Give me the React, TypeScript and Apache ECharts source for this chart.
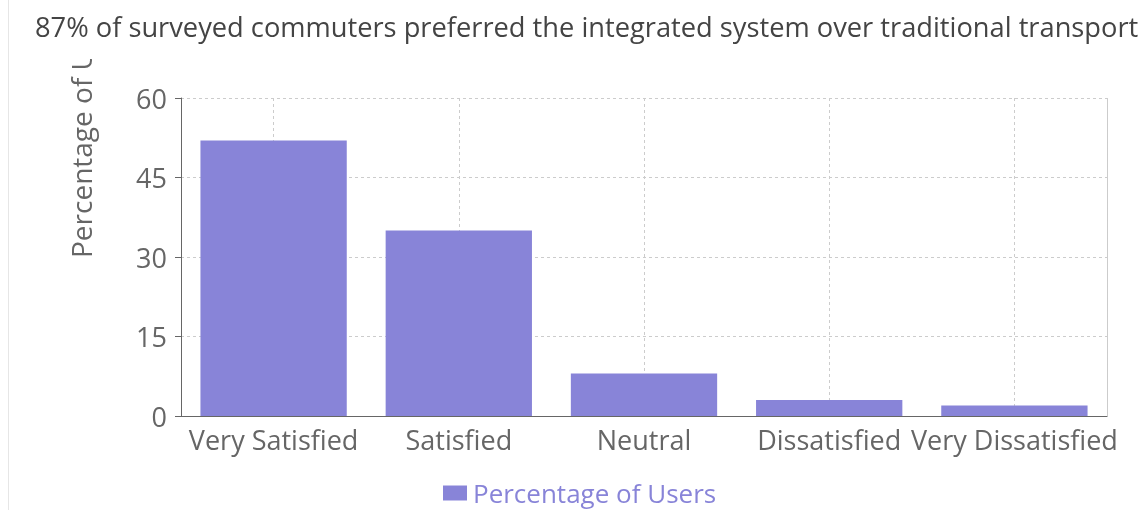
import React, { useEffect, useRef } from "react";
import * as echarts from "echarts";

// Survey results: share of users per satisfaction level
const categories = [
  "Very Satisfied",
  "Satisfied",
  "Neutral",
  "Dissatisfied",
  "Very Dissatisfied",
];
const percentages = [52, 35, 8, 3, 2];
const yTicks = { min: 0, max: 60, interval: 15 };

const seriesName = "Percentage of Users";
const titleText =
  "87% of surveyed commuters preferred the integrated system over traditional transport";

const FONT = "'Open Sans', 'Noto Sans', sans-serif";
const BAR_COLOR = "#8884d8";
const AXIS_COLOR = "#666";
const GRID_COLOR = "#ccc";

// Half-band helper axis: its odd boundaries fall on the category centres,
// which is where the vertical dashed grid lines go.
const halfBands = categories.flatMap((c) => [c + ":a", c + ":b"]);

export default function App() {
  const ref = useRef<HTMLDivElement>(null);

  useEffect(() => {
    if (!ref.current) return;
    const chart = echarts.init(ref.current, undefined, { renderer: "svg" });

    chart.setOption({
      animation: false,
      textStyle: { fontFamily: FONT },
      title: {
        text: titleText,
        left: 35,
        top: 13,
        padding: 0,
        z: 10,
        textStyle: {
          fontFamily: FONT,
          fontSize: 27.25,
          fontWeight: "normal",
          color: "#444",
        },
      },
      legend: {
        data: [seriesName],
        left: 438,
        top: 475,
        itemWidth: 24,
        itemHeight: 15,
        icon: "rect",
        textStyle: {
          fontFamily: FONT,
          fontSize: 26,
          color: BAR_COLOR,
          padding: [0, 0, 0, 1],
        },
      },
      grid: { left: 181, right: 31, top: 98, bottom: 94 },
      xAxis: [
        {
          type: "category",
          data: categories,
          axisLine: { lineStyle: { color: AXIS_COLOR } },
          axisTick: {
            alignWithLabel: true,
            length: 6,
            lineStyle: { color: AXIS_COLOR },
          },
          axisLabel: {
            interval: 0,
            fontFamily: FONT,
            fontSize: 27,
            color: AXIS_COLOR,
            margin: 10,
          },
          splitLine: { show: false },
        },
        {
          type: "category",
          data: halfBands,
          position: "bottom",
          axisLine: { show: false },
          axisTick: { show: false },
          axisLabel: { show: false },
          splitLine: {
            show: true,
            interval: (index: number) => index % 2 === 1,
            lineStyle: { color: GRID_COLOR, type: [3, 3] },
          },
        },
      ],
      yAxis: [
        {
          type: "value",
          min: yTicks.min,
          max: yTicks.max,
          interval: yTicks.interval,
          axisLine: { show: true, lineStyle: { color: AXIS_COLOR } },
          axisTick: { show: true, length: 6, lineStyle: { color: AXIS_COLOR } },
          axisLabel: {
            fontFamily: FONT,
            fontSize: 27,
            color: AXIS_COLOR,
            margin: 14,
          },
          splitLine: {
            show: true,
            lineStyle: { color: GRID_COLOR, type: [3, 3] },
          },
        },
        {
          // dashed right-hand border of the grid
          type: "value",
          position: "right",
          min: yTicks.min,
          max: yTicks.max,
          interval: yTicks.interval,
          axisLine: {
            show: true,
            lineStyle: { color: GRID_COLOR, type: [3, 3] },
          },
          axisTick: { show: false },
          axisLabel: { show: false },
          splitLine: { show: false },
        },
      ],
      graphic: [
        {
          type: "line",
          shape: { x1: 8.5, y1: 0, x2: 8.5, y2: 510 },
          style: { stroke: "#e6e6e6", lineWidth: 1 },
          silent: true,
        },
        {
          type: "text",
          x: 81,
          y: 258,
          rotation: Math.PI / 2,
          z: 1,
          style: {
            text: seriesName,
            font: `28px ${FONT}`,
            fill: AXIS_COLOR,
            align: "left",
            verticalAlign: "middle",
          },
          silent: true,
        },
        {
          // the axis title is cut off at the top edge of the plot panel
          type: "rect",
          shape: { x: 60, y: 0, width: 40, height: 59 },
          style: { fill: "#fff" },
          z: 2,
          silent: true,
        },
      ],
      series: [
        {
          name: seriesName,
          type: "bar",
          data: percentages,
          xAxisIndex: 0,
          yAxisIndex: 0,
          barCategoryGap: "21%",
          itemStyle: { color: BAR_COLOR },
        },
      ],
    });

    return () => chart.dispose();
  }, []);

  return (
    <div
      ref={ref}
      style={{ position: "fixed", left: 0, top: 0, width: 1138, height: 510 }}
    />
  );
}
